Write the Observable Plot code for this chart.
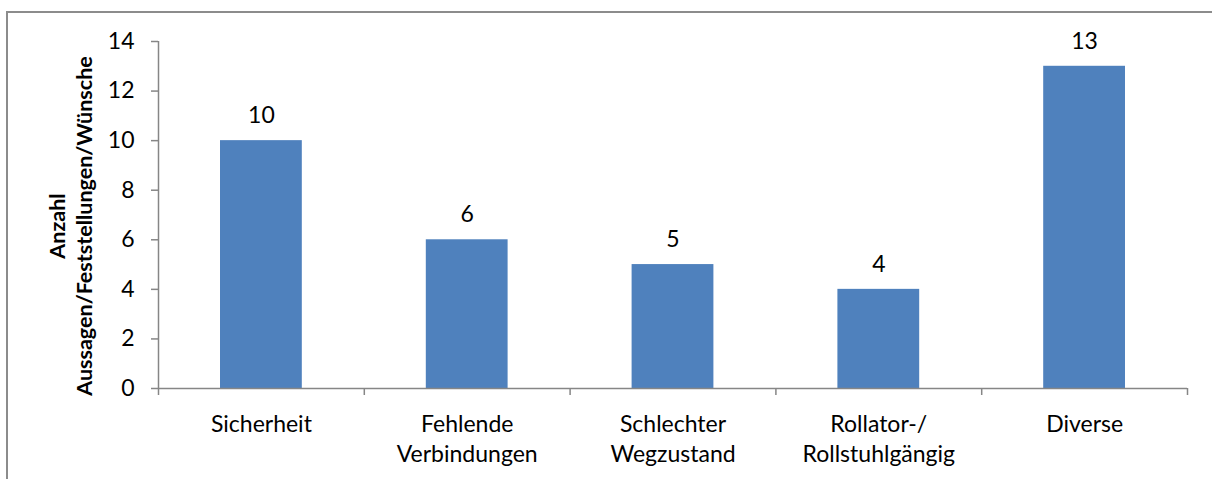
<!DOCTYPE html>
<html>
<head>
<meta charset="utf-8">
<script src="https://cdn.jsdelivr.net/npm/d3@7"></script>
<script src="https://cdn.jsdelivr.net/npm/@observablehq/plot@0.6"></script>
<style>
  html, body { margin: 0; padding: 0; background: #fff; overflow: hidden; }
  #wrap { position: relative; width: 1212px; height: 479px; overflow: hidden; }
  #frame { position: absolute; left: 6px; top: 11px; width: 1400px; height: 700px;
           border-top: 2px solid #8c8c8c; border-left: 2px solid #8c8c8c; box-sizing: border-box; pointer-events: none; }
  #chart { position: absolute; left: 0; top: 0; }
  #ytitle { position: absolute; left: 71px; top: 226px; transform: translate(-50%, -50%) rotate(-90deg);
            font: bold 21.5px "Lato", sans-serif; text-align: center; line-height: 27px; white-space: nowrap; color: #000; }
</style>
</head>
<body>
<div id="wrap">
  <div id="frame"></div>
  <div id="chart"></div>
  <div id="ytitle">Anzahl<br>Aussagen/Feststellungen/Wünsche</div>
</div>
<script>
const categories = ["Sicherheit", "Fehlende\nVerbindungen", "Schlechter\nWegzustand", "Rollator-/\nRollstuhlgängig", "Diverse"];
const values = [10, 6, 5, 4, 13];
const yTicks = [0, 2, 4, 6, 8, 10, 12, 14];

const data = categories.map((c, i) => ({category: c, i, value: values[i]}));
const axisColor = "#868686";
const barColor = "#4F81BD";

const chart = Plot.plot({
  width: 1212,
  height: 479,
  marginLeft: 158,
  marginRight: 25,
  marginTop: 41,
  marginBottom: 91,
  style: {fontFamily: "Lato, sans-serif", fontSize: "23px", color: "#000", background: "transparent"},
  x: {domain: [0, categories.length], axis: null},
  y: {domain: [0, 14], axis: null},
  marks: [
    Plot.rectY(data, {x1: d => d.i, x2: d => d.i + 1, y: "value", fill: barColor, insetLeft: 62, insetRight: 62}),
    Plot.ruleX([0], {stroke: axisColor, strokeWidth: 1.5}),
    Plot.ruleY([0], {stroke: axisColor, strokeWidth: 1.5}),
    Plot.axisX({ticks: d3.range(categories.length + 1), tickSize: 7, tickFormat: () => "", label: null, stroke: axisColor, strokeWidth: 1.5}),
    Plot.axisY({ticks: yTicks, tickSize: 7, tickPadding: 17, label: null, stroke: axisColor, strokeWidth: 1.5, fill: "#000", fontSize: 23}),
    Plot.text(data, {x: d => d.i + 0.5, y: 0, text: "category", dy: 22, lineAnchor: "top", lineHeight: 1.3, fontSize: 23, fill: "#000"}),
    Plot.text(data, {x: d => d.i + 0.5, y: "value", text: d => String(d.value), dy: -25, fontSize: 23, fill: "#000"})
  ]
});
document.getElementById("chart").appendChild(chart);
</script>
</body>
</html>
